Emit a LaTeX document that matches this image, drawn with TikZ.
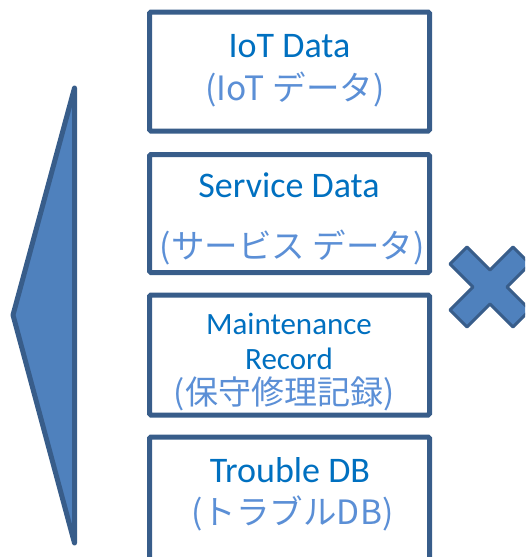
\documentclass[tikz,border=0pt]{standalone}
\usepackage{fontspec}
\setmainfont{Carlito}
\newfontfamily\jpfont{Noto Sans CJK JP}
\definecolor{edgeblue}{HTML}{385D8A}
\definecolor{fillblue}{HTML}{4F81BD}
\definecolor{textblue}{HTML}{0070C0}
\definecolor{jpblue}{HTML}{5B8FD6}
\begin{document}
\begin{tikzpicture}[x=1pt,y=-1pt,
  databox/.style={draw=edgeblue, line width=5pt, fill=white, rounded corners=1.5pt,
    minimum width=280pt, inner sep=0pt, outer sep=0pt},
  entxt/.style={anchor=base, text=textblue, font=\fontsize{36}{36}\selectfont, inner sep=0pt},
  smtxt/.style={anchor=base, text=textblue, font=\fontsize{31}{31}\selectfont, inner sep=0pt},
  jptxt/.style={anchor=base, text=jpblue, font=\jpfont\fontsize{33.5}{33.5}\selectfont, inner sep=0pt},
  shapeblue/.style={draw=edgeblue, fill=fillblue, line join=round}
]
\useasboundingbox (0,0) rectangle (525,557);
\begin{scope}
\clip (0,0) rectangle (525,557);

% left pointer triangle
\draw[shapeblue, line width=5pt] (74.5,88) -- (13,315) -- (74.5,543) -- cycle;

% stacked data boxes
\node[databox, minimum height=119pt] (iot) at (289.5,71.5) {};
\node[databox, minimum height=118pt] (svc) at (289.5,213.5) {};
\node[databox, minimum height=120pt] (mnt) at (289.5,355) {};
\node[databox, minimum height=124pt] (trb) at (289.5,499) {};

% box labels
\node[entxt] (iotEn) at (289.5,57) {IoT Data};
\node[jptxt] (iotJp) at (295,100) {(IoT データ)};
\node[entxt] (svcEn) at (289,197) {Service Data};
\node[jptxt] (svcJp) at (292,258) {(サービス データ)};
\node[smtxt] (mntEn1) at (289,334) {Maintenance};
\node[smtxt, text depth=0pt] (mntEn2) at (289,369) {Record};
\node[jptxt, font=\jpfont\fontsize{33}{33}\selectfont, text height=25pt] (mntJp) at (284,404) {(保守修理記録)};
\node[entxt] (trbEn) at (290,482) {Trouble DB};
\node[jptxt] (trbJp) at (292.5,524) {(トラブルDB)};

% multiply mark on the right
\draw[shapeblue, line width=3pt, shift={(490,287)}]
  (-40,-23) -- (-23,-40) -- (0,-17) -- (23,-40) -- (40,-23) -- (17,0)
  -- (40,23) -- (23,40) -- (0,17) -- (-23,40) -- (-40,23) -- (-17,0) -- cycle;
\end{scope}
\end{tikzpicture}
\end{document}
